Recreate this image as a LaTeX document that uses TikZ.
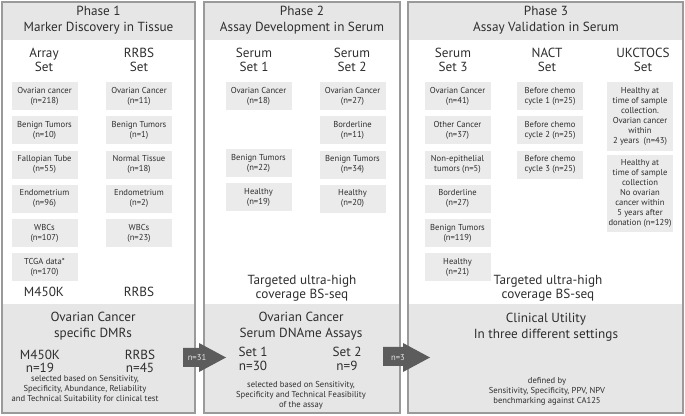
\documentclass[tikz,border=0pt]{standalone}
\usepackage{fontspec}
\setmainfont{PT Sans}
\usetikzlibrary{positioning}

\definecolor{framegray}{HTML}{9A9A9A}
\definecolor{bandgray}{HTML}{E6E6E6}
\definecolor{boxgray}{HTML}{EBEBEB}
\definecolor{textgray}{HTML}{2E2E2E}
\definecolor{arrowgray}{HTML}{5C5C5C}

\begin{document}
\begin{tikzpicture}[x=0.5pt, y=-0.5pt,
        every node/.style={text=textgray, align=center, inner sep=0pt},
        title/.style={font=\fontsize{6.6}{8}\selectfont},
        sethead/.style={font=\fontsize{6.6}{6.8}\selectfont},
        sample/.style={fill=boxgray, minimum width=33pt, minimum height=14pt, font=\fontsize{4.3}{5}\selectfont},
        note/.style={font=\fontsize{4.3}{5}\selectfont},
        panel/.style={draw=framegray, line width=0.6pt}]
        \useasboundingbox (0,0) rectangle (685,416);

        % three phase panels
        \foreach \l/\r in {2/195, 204/400, 408/683} {
            \fill[bandgray] (\l,2) rectangle (\r,40);
            \fill[bandgray] (\l,304) rectangle (\r,413);
            \draw[panel] (\l,2) rectangle (\r,413);
        }

        % phase 1
        \node[title](ph1) at (98.5,20){Phase 1\\Marker Discovery in Tissue};
        \node[sethead](array) at (44,60){Array\\Set};
        \node[sethead](rrbs) at (139,60){RRBS\\Set};

        \node[sample](a1) at (44.5,96){Ovarian cancer\\(n=218)};
        \node[sample](a2)[below = 2.75pt of a1]{Benign Tumors\\(n=10)};
        \node[sample](a3)[below = 2.75pt of a2]{Fallopian Tube\\(n=55)};
        \node[sample](a4)[below = 2.75pt of a3]{Endometrium\\(n=96)};
        \node[sample](a5)[below = 2.75pt of a4]{WBCs\\(n=107)};
        \node[sample](a6)[below = 2.75pt of a5]{TCGA data*\\(n=170)};

        \node[sample](r1) at (139,96){Ovarian Cancer\\(n=11)};
        \node[sample](r2)[below = 2.75pt of r1]{Benign Tumors\\(n=1)};
        \node[sample](r3)[below = 2.75pt of r2]{Normal Tissue\\(n=18)};
        \node[sample](r4)[below = 2.75pt of r3]{Endometrium\\(n=2)};
        \node[sample](r5)[below = 2.75pt of r4]{WBCs\\(n=23)};

        \node[sethead](m450k) at (44,292){M450K};
        \node[sethead](rrbsplat) at (139,292){RRBS};

        \node[title](dmr) at (93,326.5){Ovarian Cancer\\specific DMRs};
        \node[sethead](m450kn) at (40,361.5){M450K\\n=19};
        \node[sethead](rrbsn) at (140,361.5){RRBS\\n=45};
        \node[note](crit1) at (85,389.5){selected based on Sensitivity,\\Specificity, Abundance, Reliability\\and Technical Suitability for clinical test};

        % phase 2
        \node[title](ph2) at (302,20){Phase 2\\Assay Development in Serum};
        \node[sethead](serum1) at (254,60){Serum\\Set 1};
        \node[sethead](serum2) at (352,60){Serum\\Set 2};

        \node[sample](s1a) at (258.5,96){Ovarian Cancer\\(n=18)};
        \node[sample](s1b) at (258.5,163){Benign Tumors\\(n=22)};
        \node[sample](s1c)[below = 2.75pt of s1b]{Healthy\\(n=19)};

        \node[sample](s2a) at (352.5,96){Ovarian Cancer\\(n=27)};
        \node[sample](s2b)[below = 2.75pt of s2a]{Borderline\\(n=11)};
        \node[sample](s2c)[below = 2.75pt of s2b]{Benign Tumors\\(n=34)};
        \node[sample](s2d)[below = 2.75pt of s2c]{Healthy\\(n=20)};

        \node[sethead](seq2) at (302,288){Targeted ultra-high\\coverage BS-seq};

        \node[title](assay) at (301,326.5){Ovarian Cancer\\Serum DNAme Assays};
        \node[sethead](set1n) at (253,359){Set 1\\n=30};
        \node[sethead](set2n) at (347,359){Set 2\\n=9};
        \node[note](crit2) at (301,395){selected based on Sensitivity,\\Specificity and Technical Feasibility\\of the assay};

        % phase 3
        \node[title](ph3) at (546,20){Phase 3\\Assay Validation in Serum};
        \node[sethead](serum3) at (453,60){Serum\\Set 3};
        \node[sethead](nact) at (547,60){NACT\\Set};
        \node[sethead](ukctocs) at (643,60){UKCTOCS\\Set};

        \node[sample](s3a) at (457.5,96){Ovarian Cancer\\(n=41)};
        \node[sample](s3b)[below = 2.75pt of s3a]{Other Cancer\\(n=37)};
        \node[sample](s3c)[below = 2.75pt of s3b]{Non-epithelial\\tumors (n=5)};
        \node[sample](s3d)[below = 2.75pt of s3c]{Borderline\\(n=27)};
        \node[sample](s3e)[below = 2.75pt of s3d]{Benign Tumors\\(n=119)};
        \node[sample](s3f)[below = 2.75pt of s3e]{Healthy\\(n=21)};

        \node[sample](n1) at (550,96){Before chemo\\cycle 1 (n=25)};
        \node[sample](n2)[below = 2.75pt of n1]{Before chemo\\cycle 2 (n=25)};
        \node[sample](n3)[below = 2.75pt of n2]{Before chemo\\cycle 3 (n=25)};

        \node[sample, minimum height=34.5pt](u1) at (640,116.5){Healthy at\\time of sample\\collection.\\Ovarian cancer\\within\\2 years~~(n=43)};
        \node[sample, minimum height=38.5pt](u2)[below = 1.5pt of u1]{Healthy at\\time of sample\\collection\\No ovarian\\cancer within\\5 years after\\donation (n=129)};

        \node[sethead](seq3) at (548,288){Targeted ultra-high\\coverage BS-seq};

        \node[title](util) at (546,327){Clinical Utility\\In three different settings};
        \node[note](crit3) at (547,391){defined by\\Sensitivity, Specificity, PPV, NPV\\benchmarking against CA125};

        % block arrows between phases
        \fill[arrowgray] (183,348) -- (199,348) -- (199,343) -- (226,357.5) -- (199,372) -- (199,367) -- (183,367) -- cycle;
        \node[note, text=white!80!gray](pass1) at (197,357.5){n=31};
        \fill[arrowgray] (383,347) -- (403,347) -- (403,343) -- (430,357.5) -- (403,372) -- (403,366) -- (383,366) -- cycle;
        \node[note, text=white!80!gray](pass2) at (398,357.5){n=3};
    \end{tikzpicture}
\end{document}
